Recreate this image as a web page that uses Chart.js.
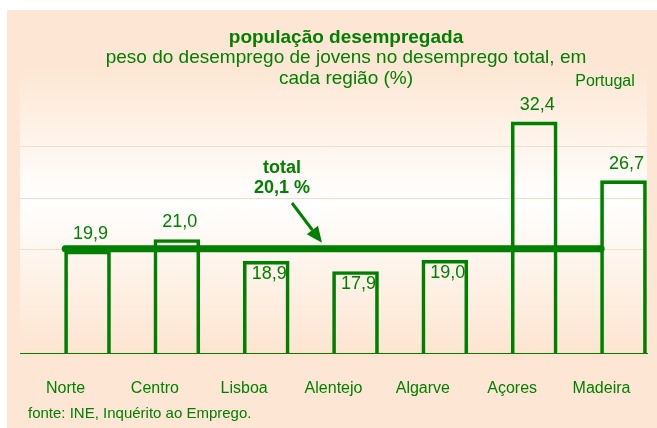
<!DOCTYPE html>
<html>
<head>
<meta charset="utf-8">
<script src="https://cdn.jsdelivr.net/npm/chart.js@4.4.1/dist/chart.umd.min.js"></script>
<style>
  html, body { margin: 0; padding: 0; background: #fff; }
  canvas { display: block; }
</style>
</head>
<body>
<canvas id="chart" width="657" height="428"></canvas>
<script>
const regions = ['Norte', 'Centro', 'Lisboa', 'Alentejo', 'Algarve', 'Açores', 'Madeira'];
const youthShare = [19.9, 21.0, 18.9, 17.9, 19.0, 32.4, 26.7];
const totalShare = 20.1;
const yTicks = [10, 15, 20, 25, 30, 35];
const gridValues = [20, 25, 30];

const green = '#008000';
const font = 'Liberation Sans, Arial, sans-serif';
const fmt = v => v.toFixed(1).replace('.', ',');

// background: peach box with a soft vertical gradient behind the plot
const backdrop = {
  id: 'backdrop',
  beforeDraw(chart) {
    const ctx = chart.ctx;
    ctx.save();
    ctx.fillStyle = '#fff';
    ctx.fillRect(0, 0, chart.width, chart.height);
    ctx.fillStyle = '#FDE7D4';
    ctx.fillRect(7, 10, chart.width - 7, chart.height - 10);
    const g = ctx.createLinearGradient(0, 70, 0, 357);
    g.addColorStop(0, '#FDE7D4');
    g.addColorStop(0.46, '#FFFFFF');
    g.addColorStop(1, '#FDE4CF');
    ctx.fillStyle = g;
    ctx.fillRect(20, 70, 627, 287);
    ctx.restore();
  }
};

const valueLabels = {
  id: 'valueLabels',
  afterDatasetsDraw(chart) {
    const ctx = chart.ctx;
    const meta = chart.getDatasetMeta(0);
    ctx.save();
    ctx.font = '18px ' + font;
    ctx.fillStyle = green;
    ctx.textAlign = 'center';
    ctx.textBaseline = 'middle';
    meta.data.forEach((bar, i) => {
      const v = youthShare[i];
      const y = v < totalShare - 0.5 ? bar.y + 13 : bar.y - 17;
      ctx.fillText(fmt(v), bar.x + 3, y);
    });
    ctx.restore();
  }
};

const texts = {
  id: 'texts',
  afterDraw(chart) {
    const ctx = chart.ctx;
    const yTotal = chart.scales.y.getPixelForValue(totalShare);
    ctx.save();
    ctx.fillStyle = green;
    ctx.textAlign = 'center';
    ctx.textBaseline = 'middle';
    ctx.font = 'bold 19px ' + font;
    ctx.fillText('população desempregada', 346, 38);
    ctx.font = '19px ' + font;
    ctx.fillText('peso do desemprego de jovens no desemprego total, em', 346, 58);
    ctx.fillText('cada região (%)', 346, 79);
    ctx.font = '16px ' + font;
    ctx.fillText('Portugal', 605, 82);
    ctx.font = 'bold 18px ' + font;
    ctx.fillText('total', 282, 168);
    ctx.fillText(fmt(totalShare) + ' %', 282, 188);
    ctx.textAlign = 'left';
    ctx.font = '15px ' + font;
    ctx.fillText('fonte: INE, Inquérito ao Emprego.', 28, 414);

    // arrow pointing at the total line
    const x0 = 292, y0 = 203, x1 = 322, y1 = yTotal - 6;
    const ang = Math.atan2(y1 - y0, x1 - x0);
    const hl = 16, hw = 7;
    ctx.strokeStyle = green;
    ctx.lineWidth = 3;
    ctx.beginPath();
    ctx.moveTo(x0, y0);
    ctx.lineTo(x1 - hl * Math.cos(ang), y1 - hl * Math.sin(ang));
    ctx.stroke();
    ctx.beginPath();
    ctx.moveTo(x1, y1);
    ctx.lineTo(x1 - hl * Math.cos(ang) + hw * Math.sin(ang), y1 - hl * Math.sin(ang) - hw * Math.cos(ang));
    ctx.lineTo(x1 - hl * Math.cos(ang) - hw * Math.sin(ang), y1 - hl * Math.sin(ang) + hw * Math.cos(ang));
    ctx.closePath();
    ctx.fill();
    ctx.restore();
  }
};

const lineShift = -0.25; // total line runs between the bars' left edges

new Chart(document.getElementById('chart'), {
  type: 'bar',
  data: {
    datasets: [
      {
        type: 'bar',
        data: regions.map((r, i) => ({ x: i, y: youthShare[i] })),
        backgroundColor: 'rgba(0,0,0,0)',
        borderColor: green,
        borderWidth: 3,
        borderSkipped: false,
        barThickness: 46,
        order: 2
      },
      {
        type: 'line',
        data: [
          { x: lineShift, y: totalShare },
          { x: regions.length - 1 + lineShift, y: totalShare }
        ],
        borderColor: green,
        borderWidth: 7,
        borderCapStyle: 'round',
        pointRadius: 0,
        clip: false,
        order: 1
      }
    ]
  },
  options: {
    responsive: false,
    animation: false,
    layout: { padding: { top: 95, left: 20, right: 10, bottom: 0 } },
    plugins: { legend: { display: false }, tooltip: { enabled: false } },
    scales: {
      x: {
        type: 'linear',
        offset: false,
        min: -0.756,
        max: 6.263,
        afterBuildTicks: s => { s.ticks = regions.map((r, i) => ({ value: i })); },
        afterFit: s => { s.height = 75; s.paddingLeft = 0; s.paddingRight = 0; },
        grid: { display: false, drawTicks: false, offset: false },
        border: { color: green, width: 1 },
        ticks: {
          callback: v => regions[v],
          color: green,
          font: { family: font, size: 16 },
          padding: 26,
          labelOffset: -22,
          maxRotation: 0,
          autoSkip: false
        }
      },
      y: {
        min: yTicks[0],
        max: yTicks[yTicks.length - 1],
        afterBuildTicks: s => { s.ticks = yTicks.map(v => ({ value: v })); },
        afterFit: s => { s.width = 0; },
        ticks: { display: false },
        border: { display: false },
        grid: {
          drawTicks: false,
          color: c => (c.tick && gridValues.includes(c.tick.value)) ? '#F8DCC5' : 'rgba(0,0,0,0)'
        }
      }
    }
  },
  plugins: [backdrop, valueLabels, texts]
});
</script>
</body>
</html>
